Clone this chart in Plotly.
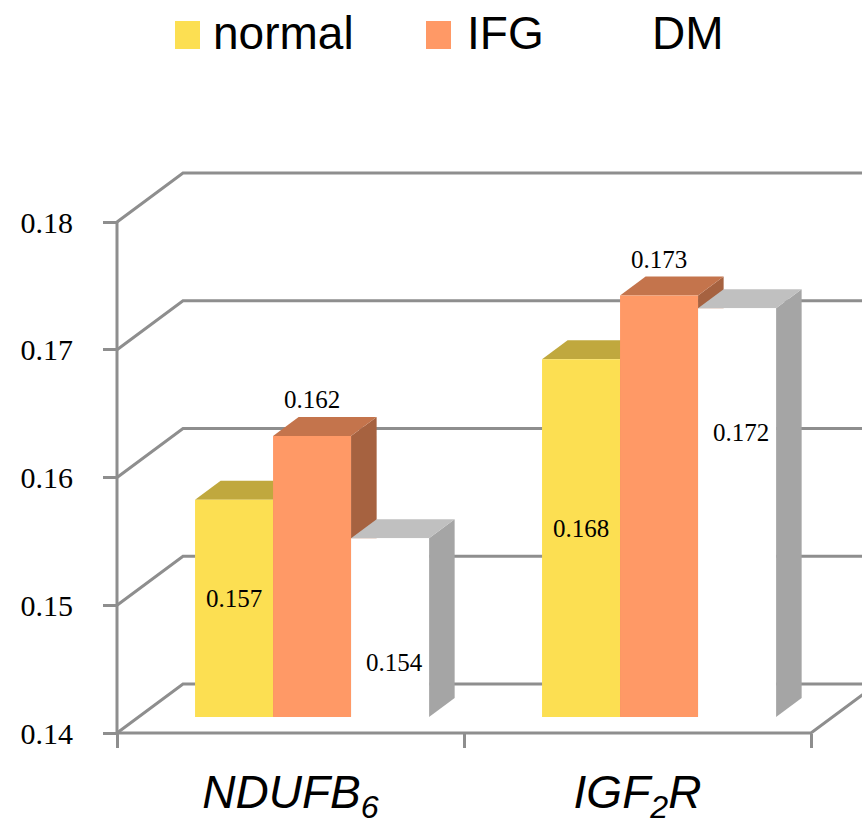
import plotly.graph_objects as go

# ---------------- data ----------------
categories = ["NDUFB6", "IGF2R"]
category_labels = ["<i>NDUFB<sub>6</sub></i>", "<i>IGF<sub>2</sub>R</i>"]
series_names = ["normal", "IFG", "DM"]
normal = [0.157, 0.168]
ifg = [0.162, 0.173]
dm = [0.154, 0.172]
y_ticks = [0.14, 0.15, 0.16, 0.17, 0.18]
y_tick_labels = ["0.14", "0.15", "0.16", "0.17", "0.18"]

series_values = [normal, ifg, dm]

# ---------------- style ----------------
front_colors = ["#FCDF52", "#FF9966", "#FFFFFF"]
top_colors = ["#C0A83E", "#C4744C", "#C0C0C0"]
side_colors = ["#A89433", "#A66240", "#A5A5A5"]
grid_color = "#8E8E8E"
SERIF = "Liberation Serif, Times New Roman, Times, serif"
SANS = "Liberation Sans, Arial, Helvetica, sans-serif"

W, H = 862, 824
BASE = y_ticks[0]
CAT_PX = 347.0          # px per category
VAL_PX = 12775.0        # px per value unit
FRONT_C0 = 290.5        # px of first category centre on front plane
FRONT_BASE_PY = 733.0   # px of BASE on the front plane
DX, DY = 66.0, 49.0     # full depth offset in px
D0 = 16.0 / 49.0        # depth of bar front faces
D1 = 35.0 / 49.0        # depth of bar back faces
BAR_W = 0.2248          # bar width in category units

bar_px0 = FRONT_C0 + D0 * DX
bar_py0 = FRONT_BASE_PY - D0 * DY
x_range = [-bar_px0 / CAT_PX, (W - bar_px0) / CAT_PX]
y_range = [BASE - (H - bar_py0) / VAL_PX, BASE + bar_py0 / VAL_PX]
x2_range = [-FRONT_C0 / CAT_PX, (W - FRONT_C0) / CAT_PX]
y2_range = [BASE - (H - FRONT_BASE_PY) / VAL_PX, BASE + FRONT_BASE_PY / VAL_PX]


def P(u, v, d):
    """world point (category unit, value, depth) -> bar-plane axis coords"""
    return (u + (d - D0) * DX / CAT_PX, v + (d - D0) * DY / VAL_PX)


def path(points):
    return "M " + " L ".join(f"{x:.6f},{y:.6f}" for x, y in points)


shapes = []
n_cat = len(categories)
# gridlines on back wall with left diagonals
for v in y_ticks:
    pts = [P(-0.5, v, 0), P(-0.5, v, 1), P(n_cat + 1, v, 1)]
    shapes.append(dict(type="path", path=path(pts), xref="x", yref="y",
                       line=dict(color=grid_color, width=3), layer="below"))
# floor front edge and right diagonal
pts = [P(-0.5, BASE, 0), P(n_cat - 0.5, BASE, 0), P(n_cat - 0.5, BASE, 1.5)]
shapes.append(dict(type="path", path=path(pts), xref="x", yref="y",
                   line=dict(color=grid_color, width=3), layer="below"))
# front vertical axis line
pts = [P(-0.5, y_ticks[0], 0), P(-0.5, y_ticks[-1], 0)]
shapes.append(dict(type="path", path=path(pts), xref="x", yref="y",
                   line=dict(color=grid_color, width=3), layer="below"))

# 3D faces for bars (tops and sides), drawn under the bar fronts
ddx = (D1 - D0) * DX / CAT_PX
ddy = (D1 - D0) * DY / VAL_PX
n_ser = len(series_values)
for i in range(n_cat):
    for k in range(n_ser):
        v = series_values[k][i]
        xl = i + (k - n_ser / 2) * BAR_W
        xr = xl + BAR_W
        side = [(xr, BASE), (xr, v), (xr + ddx, v + ddy), (xr + ddx, BASE + ddy)]
        top = [(xl, v), (xr, v), (xr + ddx, v + ddy), (xl + ddx, v + ddy)]
        shapes.append(dict(type="path", path=path(side) + " Z", xref="x", yref="y",
                           fillcolor=side_colors[k], line=dict(width=0), layer="below"))
        shapes.append(dict(type="path", path=path(top) + " Z", xref="x", yref="y",
                           fillcolor=top_colors[k], line=dict(width=0), layer="below"))

fig = go.Figure()
for k in range(n_ser):
    vals = series_values[k]
    fig.add_trace(go.Bar(
        x=list(range(n_cat)), y=[v - BASE for v in vals], base=BASE,
        width=BAR_W, offset=(k - n_ser / 2) * BAR_W,
        marker=dict(color=front_colors[k], line=dict(width=0)),
        name=series_names[k], customdata=vals,
        hovertemplate="%{customdata}<extra>" + series_names[k] + "</extra>",
        xaxis="x", yaxis="y", showlegend=False,
    ))

# dummy trace establishing the front category axis
fig.add_trace(go.Scatter(x=category_labels, y=[BASE] * n_cat, xaxis="x2", yaxis="y2",
                         mode="markers", marker=dict(opacity=0), hoverinfo="skip",
                         showlegend=False))

# data labels
annotations = []
label_font = dict(family=SERIF, size=25, color="black")
for i in range(n_cat):
    for k in range(n_ser):
        v = series_values[k][i]
        xc = i + (k - n_ser / 2 + 0.5) * BAR_W
        if k == 0:
            a = dict(x=xc, y=(BASE + v) / 2, yshift=10, xshift=0)
        elif k == 1:
            a = dict(x=xc, y=v, yshift=36, xshift=0)
        else:
            a = dict(x=xc, y=v, yshift=-124, xshift=4)
        a.update(text=f"{v:.3f}", showarrow=False, xref="x", yref="y",
                 xanchor="center", yanchor="middle", font=label_font)
        annotations.append(a)

# legend (manual, large square swatches)
legend_sq_x = [175, 426, 611]
legend_tx_x = [211, 465, 650]
for k in range(n_ser):
    shapes.append(dict(type="rect", xref="paper", yref="paper",
                       x0=legend_sq_x[k] / W, x1=(legend_sq_x[k] + 25) / W,
                       y0=1 - 49 / H, y1=1 - 21 / H,
                       fillcolor=front_colors[k], line=dict(width=0), layer="above"))
    annotations.append(dict(text=series_names[k], x=legend_tx_x[k] / W, y=1 - 33 / H,
                            xref="paper", yref="paper", xanchor="left", yanchor="middle",
                            showarrow=False,
                            font=dict(family=SANS, size=46, color="black")))

fig.update_layout(
    width=W, height=H, margin=dict(l=0, r=0, t=0, b=0, autoexpand=False),
    paper_bgcolor="white", plot_bgcolor="white",
    barmode="overlay", showlegend=False,
    shapes=shapes, annotations=annotations,
    xaxis=dict(range=x_range, visible=False, fixedrange=True, automargin=False),
    yaxis=dict(range=y_range, visible=False, fixedrange=True, automargin=False),
    xaxis2=dict(overlaying="x", type="category", categoryorder="array",
                categoryarray=category_labels, range=x2_range,
                anchor="free", position=(H - FRONT_BASE_PY) / H, automargin=False,
                ticks="outside", tickson="boundaries", ticklen=14, tickwidth=3,
                tickcolor=grid_color, showline=False, showgrid=False, zeroline=False,
                tickfont=dict(family=SANS, size=46, color="black"),
                ticklabelstandoff=28),
    yaxis2=dict(overlaying="y", range=y2_range, anchor="free", automargin=False,
                position=(FRONT_C0 - CAT_PX / 2) / W, side="left",
                tickmode="array", tickvals=y_ticks, ticktext=y_tick_labels,
                ticks="outside", ticklen=14, tickwidth=3, tickcolor=grid_color,
                showline=False, showgrid=False, zeroline=False,
                tickfont=dict(family=SERIF, size=30, color="black"),
                ticklabelstandoff=24),
)

fig.write_html("out.html")
